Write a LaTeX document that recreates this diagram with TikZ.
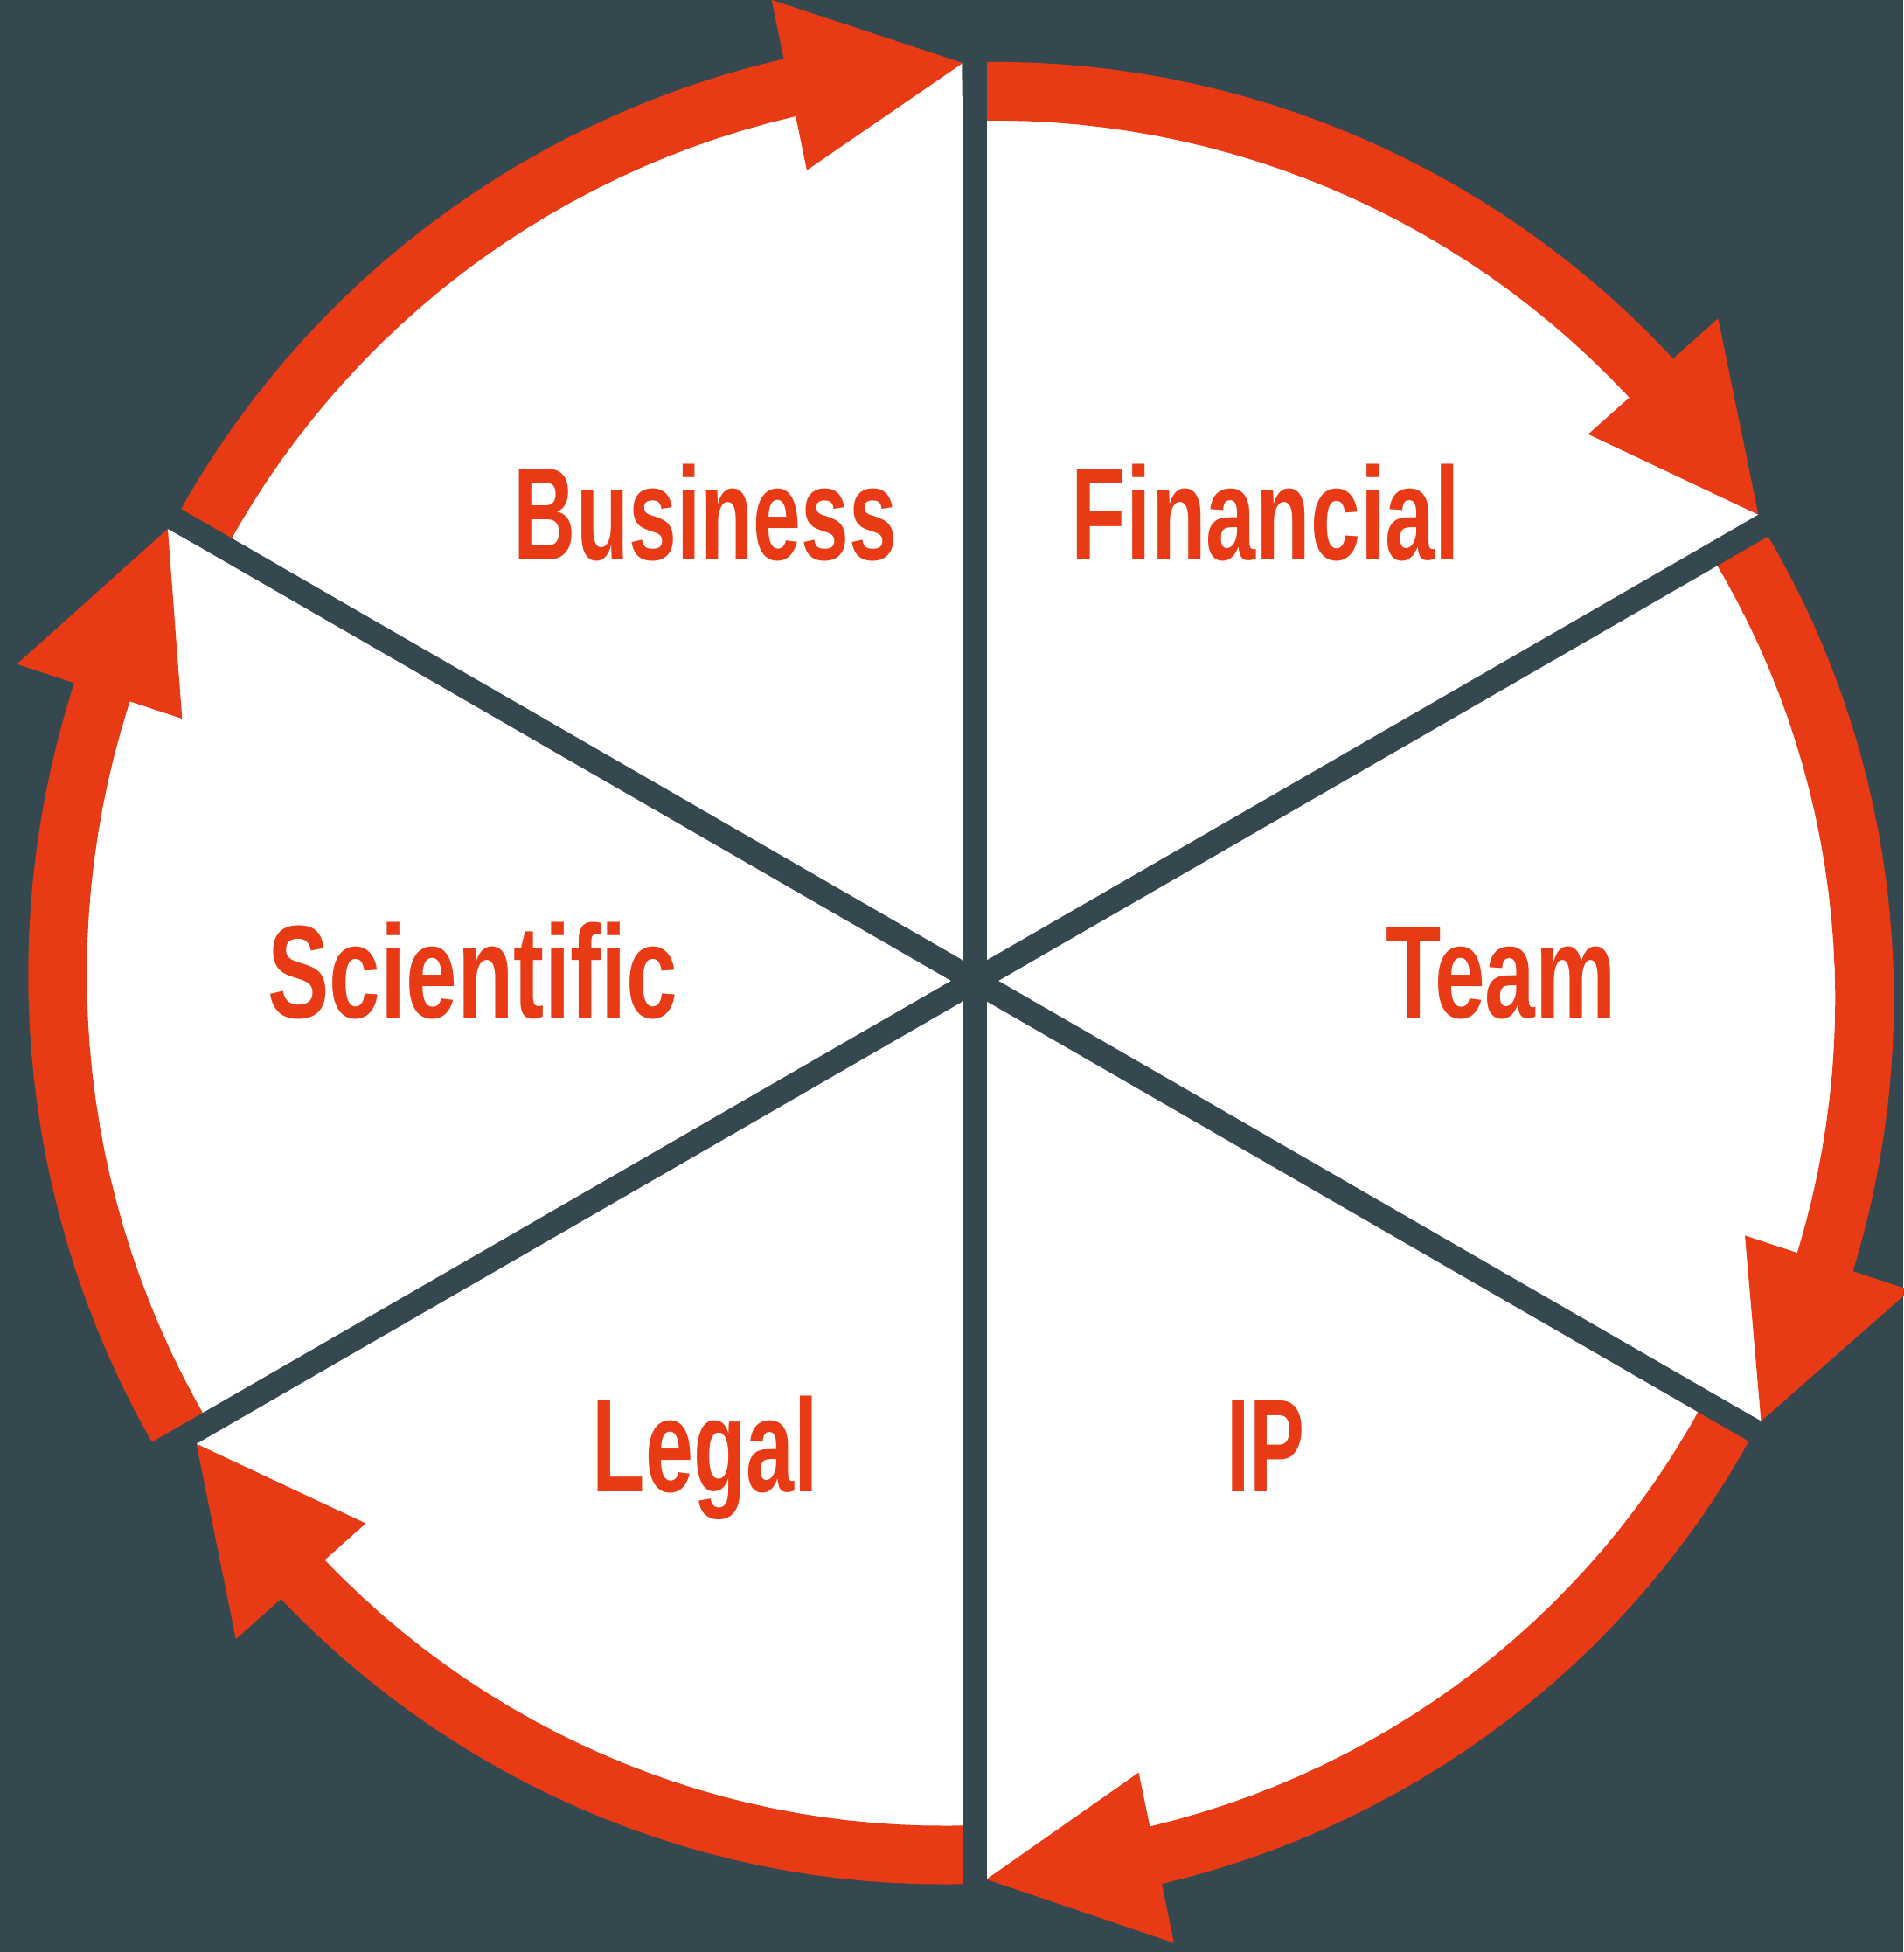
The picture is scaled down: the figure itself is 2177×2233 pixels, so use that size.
\documentclass[tikz,border=0pt]{standalone}
\usepackage{fontspec}
\setmainfont{Liberation Sans}
\usepackage{xcolor}
\usepackage{graphicx}
\usetikzlibrary{calc}
\definecolor{slate}{HTML}{36484F}
\definecolor{flame}{HTML}{E83A14}
\tikzset{
  band/.style={draw=flame,line width=6.7mm},
  gap/.style={draw=slate,line width=2.7mm}
}
\newcommand{\lbl}[2][0.66]{\scalebox{#1}[1]{\fontsize{43}{50}\selectfont\bfseries\color{flame}#2}}
% #1 start angle, #2 outer radius at start, #3 outer radius at the arrow
\newcommand{\wedg}[3]{%
  \pgfmathsetmacro{\bang}{#1-48.3}%
  \pgfmathsetmacro{\bend}{#1-49.8}%
  \pgfmathsetmacro{\tang}{#1-59.25}%
  \fill[white] (0,0) -- (\tang:{#3-27}) -- plot[domain=\bang:#1,samples=30] (\x:{#2+(#3-#2)*(#1-(\x))/48.3-33.5}) -- cycle;
  \draw[band] plot[domain=\bend:#1,samples=30] (\x:{#2+(#3-#2)*(#1-(\x))/48.3-33.5});
  \fill[flame] (\bang:{#3+69}) -- (\tang:{#3-27}) -- (\bang:{#3-130}) -- cycle;
}

\begin{document}
\begin{tikzpicture}[x=0.1mm,y=0.1mm,every node/.style={inner sep=0pt,anchor=base}]
	\useasboundingbox (-1115,-1111) rectangle (1062,1122);
	\fill[slate] (-1115,-1111) rectangle (1062,1122);
	\wedg{150}{1056}{1077}
	\wedg{90}{1051}{1070}
	\wedg{30}{1040}{1058}
	\wedg{330}{1030}{1055}
	\wedg{270}{1033}{1063}
	\wedg{210}{1079}{1085}
	\draw[gap] (90:1200) -- (270:1200);
	\draw[gap] (30:1200) -- (210:1200);
	\draw[gap] (150:1200) -- (330:1200);
	\node (bus) at (-308,481) {\lbl[0.652]{Business}};
	\node (fin) at (333,481) {\lbl[0.678]{Financial}};
	\node (sci) at (-574,-43) {\lbl[0.698]{Scientific}};
	\node (team) at (602,-43) {\lbl[0.686]{Team}};
	\node (leg) at (-308,-584) {\lbl[0.655]{Legal}};
	\node (ip) at (333,-584) {\lbl[0.625]{IP}};
\end{tikzpicture}
\end{document}
